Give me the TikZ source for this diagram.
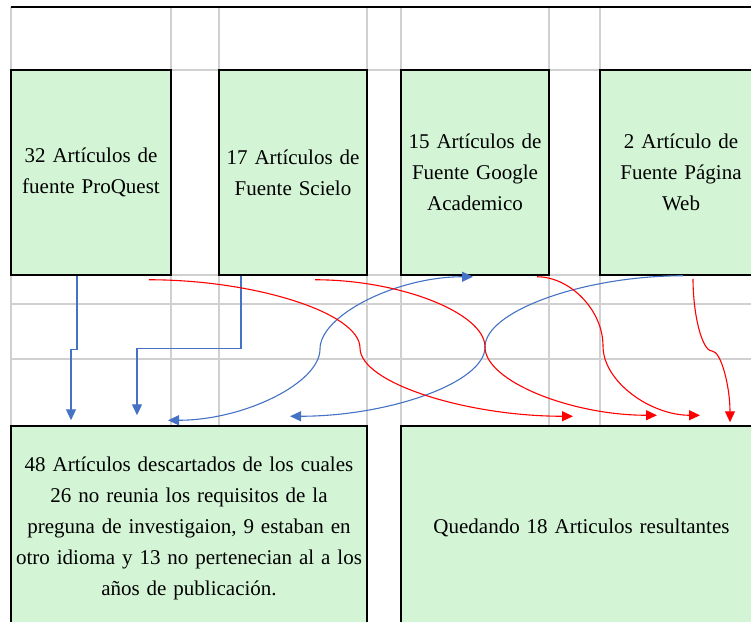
\documentclass[tikz,border=0pt]{standalone}
\usepackage{fontspec}
\setmainfont{Liberation Serif}
\usetikzlibrary{arrows.meta}
\definecolor{cajaverde}{RGB}{211,245,214}
\definecolor{gris}{RGB}{208,208,208}
\definecolor{azul}{RGB}{68,114,196}
\definecolor{rojo}{RGB}{255,0,0}
\begin{document}
\begin{tikzpicture}[x=1pt, y=-1pt,
  caja/.style={draw=black, line width=1.5pt, fill=cajaverde, align=center, inner sep=0pt, font={\fontsize{21}{31}\selectfont\spaceskip=0.33em\relax}},
  punta/.style={-{Triangle[length=11pt,width=10pt]}},
  flechaazul/.style={draw=azul, line width=1.1pt, punta},
  flecharoja/.style={draw=rojo, line width=1.1pt, punta},
  linearejilla/.style={draw=gris, line width=1.3pt}]
\useasboundingbox (0,0) rectangle (751,621);
% rejilla de la hoja
\foreach \y in {70,275,304,359} \draw[linearejilla] (11,\y) -- (751,\y);
\foreach \x in {11,171,219,367,401,549,600} \draw[linearejilla] (\x,7) -- (\x,426);
\draw[line width=1.5pt] (11,7) -- (751,7);

% fuentes
\node[caja, minimum width=160, minimum height=205] (proquest) at (91,172.5) {32 Artículos de\\fuente ProQuest};
\node[caja, minimum width=148, minimum height=205] (scielo) at (293,172.5) {17 Artículos de\\Fuente Scielo};
\node[caja, minimum width=148, minimum height=205] (google) at (475,172.5) {15 Artículos de\\Fuente Google\\Academico};
\node[caja, minimum width=162, minimum height=205] (web) at (681,172.5) {2 Artículo de\\Fuente Página\\Web};

% resultados
\node[caja, minimum width=356, minimum height=204] (descartados) at (189,528) {48 Artículos descartados de los cuales\\26 no reunia los requisitos de la\\preguna de investigaion, 9 estaban en\\otro idioma y 13 no pertenecian al a los\\años de publicación.};
\node[caja, minimum width=361, minimum height=204] (resultantes) at (581.5,528) {Quedando 18 Articulos resultantes};

% flechas azules
\draw[flechaazul] ([xshift=-14pt]proquest.south) -- ++(0,74) -| ([xshift=-118pt,yshift=5pt]descartados.north);
\draw[flechaazul] ([xshift=-52pt]scielo.south) -- ++(0,73) -| ([xshift=-52pt,yshift=10pt]descartados.north);
\draw[draw=azul, line width=1.1pt, {Triangle[length=11pt,width=10pt]}-{Triangle[length=11pt,width=10pt]}] ([xshift=-21pt,yshift=5pt]descartados.north) .. controls +(76,0) and +(0,34) .. (320,349) .. controls +(0,-34) and +(-76,0) .. ([xshift=-2pt,yshift=-1pt]google.south);
\draw[flechaazul] ([xshift=2pt]web.south) .. controls +(-99,0) and +(0,-36) .. (485,347) .. controls +(0,36) and +(98,0) .. ([xshift=101pt,yshift=9pt]descartados.north);

% flechas rojas
\draw[flecharoja] ([xshift=-23pt,yshift=-4pt]proquest.south east) .. controls +(106,0) and +(0,-35) .. (360,348) .. controls +(0,35) and +(-106,0) .. ([xshift=-8.5pt,yshift=9pt]resultantes.north);
\draw[flecharoja] ([xshift=22pt,yshift=-4pt]scielo.south) .. controls +(85,0) and +(0,-34) .. (485,347) .. controls +(0,34) and +(-86,0) .. ([xshift=75.5pt,yshift=10pt]resultantes.north);
\draw[flecharoja] ([xshift=62pt,yshift=-1pt]google.south) .. controls +(33,0) and +(0,-36) .. (603,346) .. controls +(0,36) and +(-49,0) .. ([xshift=118.5pt,yshift=10pt]resultantes.north);
\draw[flecharoja] ([xshift=12pt,yshift=-3pt]web.south) .. controls +(0,36) and +(-10,0) .. (712,351) .. controls +(9,0) and +(0,-36) .. ([xshift=148.5pt,yshift=3pt]resultantes.north);
\end{tikzpicture}
\end{document}
